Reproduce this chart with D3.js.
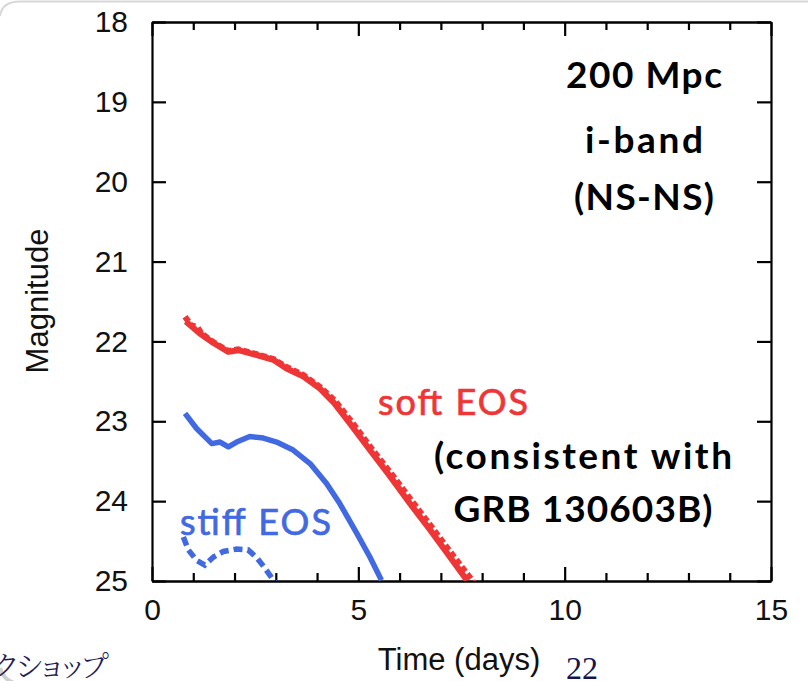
<!DOCTYPE html>
<html>
<head>
<meta charset="utf-8">
<script src="https://cdn.jsdelivr.net/npm/d3@7"></script>
<style>
  html, body { margin: 0; padding: 0; background: #fff; }
  svg { display: block; }
</style>
</head>
<body>
<svg id="chart" width="808" height="681"></svg>
<script>
// Light curves (i-band magnitude vs days) for the NS-NS merger models
const softSolidDays = [0.82, 1.16, 1.49, 1.85, 2.09, 2.54, 2.94, 3.26, 3.67, 4.07, 4.41, 4.80, 5.28, 5.77, 6.25, 6.74, 7.22, 7.63];
const softSolidMag  = [21.75, 21.90, 22.02, 22.13, 22.11, 22.17, 22.23, 22.34, 22.44, 22.59, 22.77, 23.03, 23.36, 23.69, 24.03, 24.36, 24.70, 24.99];

const softDottedDays = [0.80, 0.95, 1.10, 1.20, 1.49, 1.85, 2.09, 2.54, 2.94, 3.26, 3.67, 4.07, 4.43, 4.86, 5.35, 5.85, 6.33, 6.83, 7.31, 7.80];
const softDottedMag  = [21.69, 21.80, 21.82, 21.90, 22.01, 22.12, 22.10, 22.16, 22.22, 22.32, 22.42, 22.57, 22.74, 23.02, 23.36, 23.69, 24.02, 24.36, 24.69, 25.02];

const stiffSolidDays = [0.80, 1.08, 1.45, 1.65, 1.85, 2.05, 2.37, 2.70, 3.02, 3.42, 3.83, 4.23, 4.55, 4.96, 5.28, 5.56];
const stiffSolidMag  = [22.90, 23.09, 23.28, 23.26, 23.32, 23.26, 23.19, 23.21, 23.26, 23.36, 23.53, 23.78, 24.03, 24.40, 24.70, 24.99];

const stiffDottedDays = [0.76, 0.88, 1.08, 1.28, 1.49, 1.73, 2.05, 2.33, 2.54, 2.74, 2.90, 2.98];
const stiffDottedMag  = [24.45, 24.61, 24.74, 24.80, 24.70, 24.63, 24.60, 24.61, 24.71, 24.84, 24.96, 25.02];

const xMajorTicks = [0, 5, 10, 15];
const xMinorTicks = [1, 2, 3, 4, 6, 7, 8, 9, 11, 12, 13, 14];
const yTicks = [18, 19, 20, 21, 22, 23, 24, 25];

const RED = "#ef3535";
const BLUE = "#4169e1";

const svg = d3.select("#chart");

// Slide frame corners
svg.append("path")
  .attr("d", "M0,16 Q2,1.5 20,1.5 L808,1.5")
  .attr("fill", "none")
  .attr("stroke", "#d8d8d8")
  .attr("stroke-width", 2);
svg.append("path")
  .attr("d", "M0,668 Q3,679 14,683")
  .attr("fill", "none")
  .attr("stroke", "#cfcfcf")
  .attr("stroke-width", 4);

const plotLeft = 152, plotRight = 771, plotTop = 22, plotBottom = 581;
const x = d3.scaleLinear().domain([0, 15]).range([plotLeft, plotRight]);
const y = d3.scaleLinear().domain([18, 25]).range([plotTop, plotBottom]);

svg.append("defs").append("clipPath").attr("id", "plotclip")
  .append("rect").attr("x", plotLeft).attr("y", plotTop)
  .attr("width", plotRight - plotLeft).attr("height", plotBottom - plotTop);

const tickFont = "'Liberation Sans', Arial, Helvetica, sans-serif";

function styleAxis(g, showLabels) {
  g.selectAll(".domain").attr("stroke", "#000").attr("stroke-width", 2.2);
  g.selectAll(".tick line").attr("stroke", "#000").attr("stroke-width", 2.2);
  g.selectAll("text")
    .attr("font-family", tickFont)
    .attr("font-size", 30)
    .attr("fill", "#111")
    .style("display", showLabels ? null : "none");
}

// Bottom axis: major ticks with labels, then minor ticks
svg.append("g").attr("transform", `translate(0,${plotBottom})`)
  .call(d3.axisBottom(x).tickValues(xMajorTicks).tickSize(-14).tickSizeOuter(0).tickPadding(18))
  .call(g => styleAxis(g, true));
svg.append("g").attr("transform", `translate(0,${plotBottom})`)
  .call(d3.axisBottom(x).tickValues(xMinorTicks).tickSize(-8).tickSizeOuter(0).tickFormat(""))
  .call(g => styleAxis(g, false));

// Top axis (mirrored ticks)
svg.append("g").attr("transform", `translate(0,${plotTop})`)
  .call(d3.axisTop(x).tickValues(xMajorTicks).tickSize(-14).tickSizeOuter(0).tickFormat(""))
  .call(g => styleAxis(g, false));
svg.append("g").attr("transform", `translate(0,${plotTop})`)
  .call(d3.axisTop(x).tickValues(xMinorTicks).tickSize(-8).tickSizeOuter(0).tickFormat(""))
  .call(g => styleAxis(g, false));

// Left axis with labels
svg.append("g").attr("transform", `translate(${plotLeft},0)`)
  .call(d3.axisLeft(y).tickValues(yTicks).tickSize(-14).tickSizeOuter(0).tickPadding(24).tickFormat(d3.format("d")))
  .call(g => styleAxis(g, true));

// Right axis (mirrored ticks)
svg.append("g").attr("transform", `translate(${plotRight},0)`)
  .call(d3.axisRight(y).tickValues(yTicks).tickSize(-14).tickSizeOuter(0).tickFormat(""))
  .call(g => styleAxis(g, false));

// Axis titles
svg.append("text")
  .attr("x", 459).attr("y", 670)
  .attr("text-anchor", "middle")
  .attr("font-family", tickFont).attr("font-size", 31).attr("fill", "#111")
  .text("Time (days)");

svg.append("text")
  .attr("transform", "translate(48,301) rotate(-90)")
  .attr("text-anchor", "middle")
  .attr("font-family", tickFont).attr("font-size", 31).attr("fill", "#111")
  .text("Magnitude");

// Curves
const line = d3.line().x(d => x(d[0])).y(d => y(d[1])).curve(d3.curveLinear);
const zip = (a, b) => a.map((v, i) => [v, b[i]]);

const curves = svg.append("g").attr("clip-path", "url(#plotclip)");

curves.append("path")
  .attr("d", line(zip(softSolidDays, softSolidMag)))
  .attr("fill", "none").attr("stroke", RED).attr("stroke-width", 6)
  .attr("stroke-linejoin", "round");

curves.append("path")
  .attr("d", line(zip(softDottedDays, softDottedMag)))
  .attr("fill", "none").attr("stroke", RED).attr("stroke-width", 6)
  .attr("stroke-dasharray", "6,3");

curves.append("path")
  .attr("d", line(zip(stiffSolidDays, stiffSolidMag)))
  .attr("fill", "none").attr("stroke", BLUE).attr("stroke-width", 5.5)
  .attr("stroke-linejoin", "round");

curves.append("path")
  .attr("d", line(zip(stiffDottedDays, stiffDottedMag)))
  .attr("fill", "none").attr("stroke", BLUE).attr("stroke-width", 5.5)
  .attr("stroke-dasharray", "9,5");

// Annotations
const annFont = "Lato, 'Open Sans', 'Noto Sans', sans-serif";

const info = [
  { t: "200 Mpc", yb: 88, w: 156 },
  { t: "i-band", yb: 153, w: 118 },
  { t: "(NS-NS)", yb: 210, w: 140 }
];
svg.append("g").selectAll("text").data(info).join("text")
  .attr("x", 644).attr("y", d => d.yb)
  .attr("text-anchor", "middle")
  .attr("font-family", annFont).attr("font-weight", "bold")
  .attr("font-size", 37).attr("fill", "#000")
  .attr("textLength", d => d.w).attr("lengthAdjust", "spacing")
  .text(d => d.t);

svg.append("text")
  .attr("x", 378).attr("y", 415)
  .attr("font-family", annFont).attr("font-size", 36).attr("fill", RED)
  .attr("stroke", RED).attr("stroke-width", 0.7)
  .attr("textLength", 150).attr("lengthAdjust", "spacing")
  .text("soft EOS");

const note = [
  { t: "(consistent with", yb: 469, w: 298 },
  { t: "GRB 130603B)", yb: 522, w: 259 }
];
svg.append("g").selectAll("text").data(note).join("text")
  .attr("x", 583).attr("y", d => d.yb)
  .attr("text-anchor", "middle")
  .attr("font-family", annFont).attr("font-weight", "bold")
  .attr("font-size", 37).attr("fill", "#000")
  .attr("textLength", d => d.w).attr("lengthAdjust", "spacing")
  .text(d => d.t);

svg.append("text")
  .attr("x", 180).attr("y", 535)
  .attr("font-family", annFont).attr("font-size", 36).attr("fill", BLUE)
  .attr("stroke", BLUE).attr("stroke-width", 0.7)
  .attr("textLength", 151).attr("lengthAdjust", "spacing")
  .text("stiff EOS");

// Slide footer fragments
svg.append("text")
  .attr("x", -7).attr("y", 677)
  .attr("font-family", "'Noto Serif CJK JP', 'Noto Sans CJK JP', serif").attr("font-size", 29)
  .attr("font-weight", 300).attr("fill", "#1c1c5c")
  .style("font-feature-settings", "'palt'")
  .text("クショップ");

svg.append("text")
  .attr("x", 566).attr("y", 679)
  .attr("font-family", "'Liberation Serif', 'DejaVu Serif', serif").attr("font-size", 32)
  .attr("fill", "#14144e")
  .text("22");
</script>
</body>
</html>
